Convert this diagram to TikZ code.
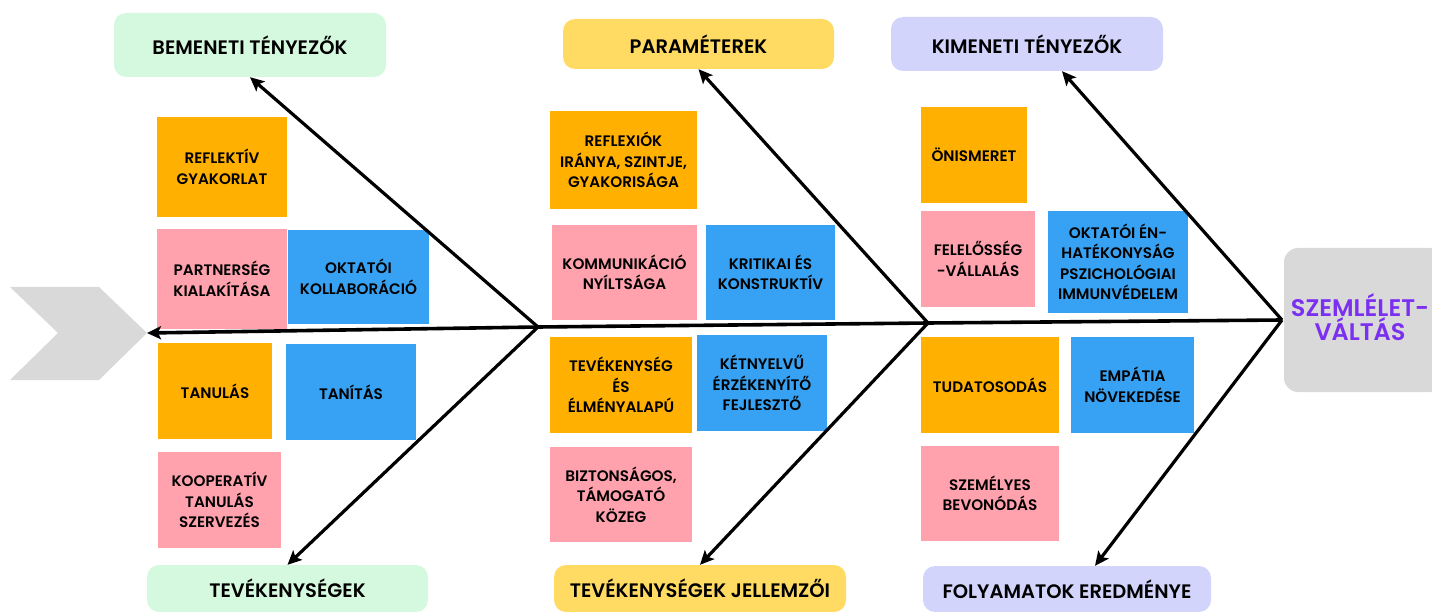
\documentclass[tikz,border=0pt]{standalone}
\usepackage{fontspec}
\setmainfont{Poppins}[BoldFont={Poppins SemiBold}]
\usetikzlibrary{arrows.meta}

\definecolor{hdgreen}{HTML}{D5F9DE}
\definecolor{hdyellow}{HTML}{FFDB63}
\definecolor{hdlav}{HTML}{D3D4FC}
\definecolor{noteorange}{HTML}{FFB000}
\definecolor{notepink}{HTML}{FFA2AD}
\definecolor{noteblue}{HTML}{37A2F3}
\definecolor{headgray}{HTML}{D9D9D9}
\definecolor{headpurple}{HTML}{7B2FF0}

\tikzset{
  header/.style={rounded corners=12pt, inner sep=0pt, align=center,
    font=\fontsize{19.5}{22}\selectfont\bfseries, text=black},
  note/.style={inner sep=0pt, align=center,
    font=\fontsize{15.2}{20.5}\selectfont\bfseries, text=black},
  bone/.style={line width=3.2pt, draw=black, -{Stealth[length=14pt,width=13pt,inset=3pt]}},
}

% box given by its corners: style, name, fill, x1, y1, x2, y2, text
\newcommand\cornerbox[8]{%
  \node[#1, fill=#3, minimum width={(#6-#4)*1pt}, minimum height={(#7-#5)*1pt}]
    (#2) at ({(#4+#6)/2},{(#5+#7)/2}) {#8};}

\begin{document}
\begin{tikzpicture}[x=1pt,y=-1pt]
\useasboundingbox (0,0) rectangle (1432,612);
\clip (0,0) rectangle (1432,612);

% tail of the fish
\fill[headgray] (10,287) -- (99,287) -- (147,333) -- (99,380) -- (10,380) -- (58,333) -- cycle;
\coordinate (tailtip) at (147,333);

% head of the fish
\node[fill=headgray, rounded corners=14pt, minimum width=160pt, minimum height=144pt, inner sep=0pt]
  (head) at (1364,320) {};
\node[align=center, text=headpurple, font=\fontsize{24}{22}\selectfont\bfseries]
  (headlbl) at (1360,317) {SZEMLÉLET-\\VÁLTÁS};

% category headers
\cornerbox{header}{bemenet}{hdgreen}{114}{13}{386}{77}{BEMENETI TÉNYEZŐK}
\cornerbox{header}{param}{hdyellow}{563}{19}{834}{69}{PARAMÉTEREK}
\cornerbox{header}{kimenet}{hdlav}{891}{17}{1163}{71}{KIMENETI TÉNYEZŐK}
\cornerbox{header}{tevek}{hdgreen}{147}{565}{428}{612}{TEVÉKENYSÉGEK}
\cornerbox{header}{jellem}{hdyellow}{554}{565}{846}{612}{TEVÉKENYSÉGEK JELLEMZŐI}
\cornerbox{header}{eredm}{hdlav}{923}{566}{1211}{612}{FOLYAMATOK EREDMÉNYE}

% notes, left group
\cornerbox{note}{reflgy}{noteorange}{157}{117}{287}{217}{REFLEKTÍV\\GYAKORLAT}
\cornerbox{note}{partner}{notepink}{157}{229}{287}{329}{PARTNERSÉG\\KIALAKÍTÁSA}
\cornerbox{note}{kollab}{noteblue}{288}{230}{429}{324}{OKTATÓI\\KOLLABORÁCIÓ}
\cornerbox{note}{tanulas}{noteorange}{158}{343}{272}{439}{TANULÁS}
\cornerbox{note}{tanitas}{noteblue}{286}{344}{416}{440}{TANÍTÁS}
\cornerbox{note}{kooper}{notepink}{158}{452}{281}{548}{KOOPERATÍV\\TANULÁS\\SZERVEZÉS}

% notes, middle group
\cornerbox{note}{reflex}{noteorange}{550}{111}{697}{209}{REFLEXIÓK\\IRÁNYA, SZINTJE,\\GYAKORISÁGA}
\cornerbox{note}{kommun}{notepink}{552}{225}{697}{320}{KOMMUNIKÁCIÓ\\NYÍLTSÁGA}
\cornerbox{note}{kritik}{noteblue}{706}{225}{835}{320}{KRITIKAI ÉS\\KONSTRUKTÍV}
\cornerbox{note}{elmeny}{noteorange}{550}{337}{692}{433}{TEVÉKENYSÉG\\ÉS\\ÉLMÉNYALAPÚ}
\cornerbox{note}{ketnyel}{noteblue}{697}{335}{827}{431}{KÉTNYELVŰ\\ÉRZÉKENYÍTŐ\\FEJLESZTŐ}
\cornerbox{note}{bizton}{notepink}{550}{447}{692}{542}{BIZTONSÁGOS,\\TÁMOGATÓ\\KÖZEG}

% notes, right group
\cornerbox{note}{onism}{noteorange}{921}{107}{1027}{203}{ÖNISMERET}
\cornerbox{note}{felel}{notepink}{921}{211}{1035}{307}{FELELŐSSÉG\\-VÁLLALÁS}
\cornerbox{note}{enhat}{noteblue}{1048}{211}{1188}{313}{OKTATÓI ÉN-\\HATÉKONYSÁG\\PSZICHOLÓGIAI\\IMMUNVÉDELEM}
\cornerbox{note}{tudat}{noteorange}{921}{337}{1059}{433}{TUDATOSODÁS}
\cornerbox{note}{empat}{noteblue}{1071}{337}{1194}{433}{EMPÁTIA\\NÖVEKEDÉSE}
\cornerbox{note}{szemely}{notepink}{921}{446}{1059}{541}{SZEMÉLYES\\BEVONÓDÁS}

% spine joints
\coordinate (j1) at (538,327);
\coordinate (j2) at (928,323);
\coordinate (j3) at (1282,320);

% spine
\draw[bone, line width=3.6pt] (j3) -- (j2) -- (j1) -- (tailtip);

% bones
\draw[bone] (j1) -- (bemenet.south);
\draw[bone] (j1) -- (tevek.north);
\draw[bone] (j2) -- (param.south);
\draw[bone] (j2) -- (jellem.north);
\draw[bone] (j3) -- ([xshift=35pt]kimenet.south);
\draw[bone] (j3) -- ([xshift=28pt]eredm.north);
\end{tikzpicture}
\end{document}
